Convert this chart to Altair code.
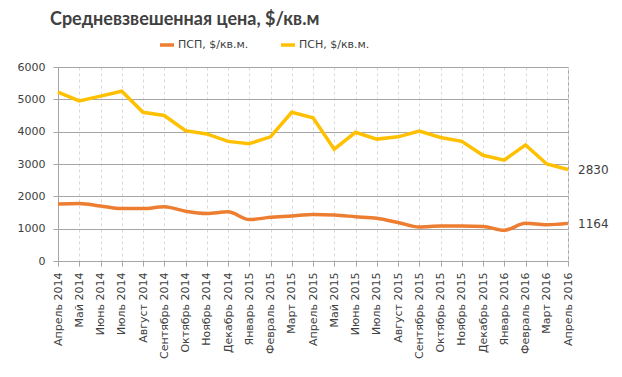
import altair as alt
import pandas as pd

months = ["Апрель 2014", "Май 2014", "Июнь 2014", "Июль 2014", "Август 2014",
          "Сентябрь 2014", "Октябрь 2014", "Ноябрь 2014", "Декабрь 2014",
          "Январь 2015", "Февраль 2015", "Март 2015", "Апрель 2015", "Май 2015",
          "Июнь 2015", "Июль 2015", "Август 2015", "Сентябрь 2015", "Октябрь 2015",
          "Ноябрь 2015", "Декабрь 2015", "Январь 2016", "Февраль 2016", "Март 2016",
          "Апрель 2016"]
psp = [1760, 1780, 1700, 1620, 1620, 1680, 1540, 1470, 1520, 1280, 1350, 1390,
       1440, 1420, 1370, 1320, 1190, 1050, 1080, 1080, 1070, 950, 1165, 1120, 1164]
psn = [5220, 4950, 5100, 5250, 4600, 4500, 4030, 3930, 3700, 3630, 3840, 4600,
       4430, 3460, 3980, 3770, 3840, 4020, 3820, 3700, 3270, 3120, 3590, 3000, 2830]
y_ticks = [0, 1000, 2000, 3000, 4000, 5000, 6000]
series = ["ПСП, $/кв.м.", "ПСН, $/кв.м."]
colors = ["#ED7D31", "#FFC000"]

rows = []
for s, vals in zip(series, [psp, psn]):
    for m, v in zip(months, vals):
        rows.append({"month": m, "value": v, "series": s})
df = pd.DataFrame(rows)
last = df[df["month"] == months[-1]]

font = "DejaVu Sans"
x = alt.X("month:N", sort=months, title=None,
          scale=alt.Scale(type="point", padding=0),
          axis=alt.Axis(labelAngle=-90, labelFont=font, labelFontSize=11,
                        labelColor="#404040", labelPadding=6, tickSize=5,
                        tickColor="#A6A6A6", domainColor="#A6A6A6",
                        grid=True, gridDash=[3, 3], gridColor="#D9D9D9"))
y = alt.Y("value:Q", title=None,
          scale=alt.Scale(domain=[0, 6000]),
          axis=alt.Axis(values=y_ticks, format="d", labelOverlap=False,
                        labelFont=font, labelFontSize=11, labelColor="#404040",
                        labelPadding=8, tickSize=5, tickColor="#A6A6A6",
                        domainColor="#A6A6A6", gridColor="#A6A6A6"))
color = alt.Color("series:N", title=None,
                  scale=alt.Scale(domain=series, range=colors),
                  legend=alt.Legend(orient="none", direction="horizontal",
                                    legendX=100, legendY=-31,
                                    symbolType="stroke", symbolSize=196,
                                    symbolStrokeWidth=3.5, labelFont=font,
                                    labelFontSize=11, labelColor="#404040",
                                    labelOffset=2, columnPadding=25))

base = alt.Chart(df).encode(x=x, y=y, color=color)
line_psp = base.transform_filter(alt.datum.series == series[0]).mark_line(
    strokeWidth=3.5, interpolate="monotone")
line_psn = base.transform_filter(alt.datum.series == series[1]).mark_line(
    strokeWidth=3.5)
labels = alt.Chart(last).mark_text(
    align="left", dx=10, dy=1, font=font, fontSize=12, color="#404040"
).encode(x=x, y=y, text="value:Q")

chart = alt.layer(line_psp, line_psn, labels).properties(
    width=510, height=194,
    autosize=alt.AutoSizeParams(type="none"),
    padding={"left": 50, "top": 59, "right": 45, "bottom": 105},
    title=alt.TitleParams("Средневзвешенная цена, $/кв.м", anchor="start",
                          frame="group", dx=-8, offset=7, font="Lato",
                          fontSize=18, fontWeight="bold", color="#404040"),
).configure_view(stroke="#A6A6A6")

chart.save("out.html", embed_options={"renderer": "svg", "actions": False})
